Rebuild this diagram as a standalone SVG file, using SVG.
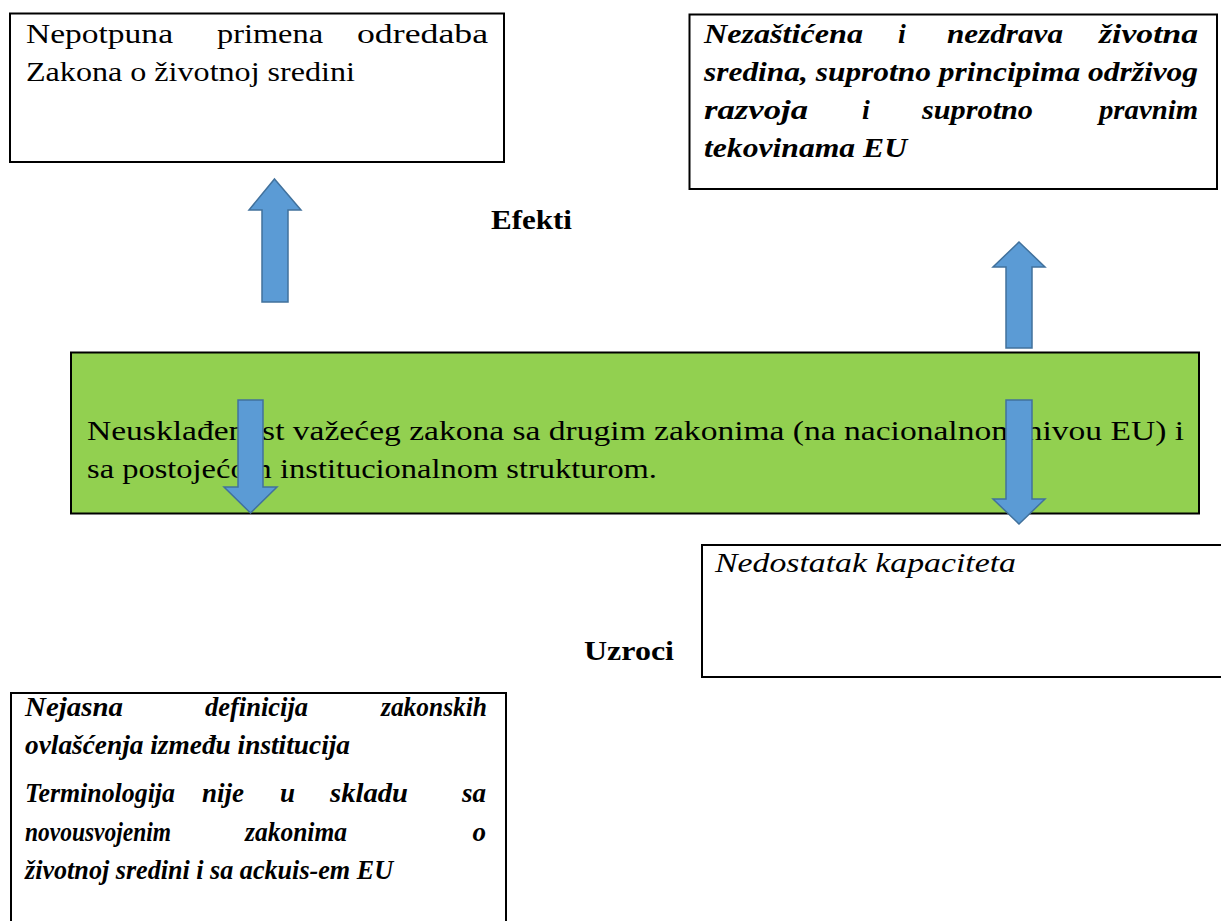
<svg xmlns="http://www.w3.org/2000/svg" width="1221" height="921" viewBox="0 0 1221 921">
<style>
.box{fill:#ffffff;stroke:#000000;stroke-width:2}
.green{fill:#92D050;stroke:#000000;stroke-width:2}
.t{font-family:"Liberation Serif","Times New Roman",serif;font-size:28px;fill:#000000}
.s{font-size:27px}
.bi{font-style:italic;font-weight:bold}
.it{font-style:italic}
.b{font-weight:bold}
.e{text-anchor:end}
.arrow{fill:#5B9BD5;stroke:#41719C;stroke-width:1.5;stroke-linejoin:miter}
</style>
<rect width="1221" height="921" fill="#ffffff"/>

<g id="node-nepotpuna">
<rect class="box" x="10" y="13.5" width="494" height="148.5"/>
<text class="t" x="26" y="43" textLength="147" lengthAdjust="spacingAndGlyphs">Nepotpuna</text>
<text class="t" x="217" y="43" textLength="106" lengthAdjust="spacingAndGlyphs">primena</text>
<text class="t" x="357" y="43" textLength="131" lengthAdjust="spacingAndGlyphs">odredaba</text>
<text class="t" x="26" y="81" textLength="329" lengthAdjust="spacingAndGlyphs">Zakona o životnoj sredini</text>
</g>

<g id="node-nezasticena">
<rect class="box" x="689.5" y="14.5" width="527.5" height="174.5"/>
<text class="t bi" x="704" y="43" textLength="159" lengthAdjust="spacingAndGlyphs">Nezaštićena</text>
<text class="t bi" x="898" y="43">i</text>
<text class="t bi" x="947" y="43" textLength="116" lengthAdjust="spacingAndGlyphs">nezdrava</text>
<text class="t bi" x="1099" y="43" textLength="99" lengthAdjust="spacingAndGlyphs">životna</text>
<text class="t bi" x="704" y="81" textLength="494" lengthAdjust="spacingAndGlyphs">sredina, suprotno principima održivog</text>
<text class="t bi" x="704" y="119" textLength="104" lengthAdjust="spacingAndGlyphs">razvoja</text>
<text class="t bi" x="862" y="119">i</text>
<text class="t bi" x="922" y="119" textLength="111" lengthAdjust="spacingAndGlyphs">suprotno</text>
<text class="t bi" x="1099" y="119" textLength="99" lengthAdjust="spacingAndGlyphs">pravnim</text>
<text class="t bi" x="704" y="157" textLength="203" lengthAdjust="spacingAndGlyphs">tekovinama EU</text>
</g>

<g id="label-efekti">
<text class="t b" x="491" y="229" textLength="81" lengthAdjust="spacingAndGlyphs">Efekti</text>
</g>

<g id="node-neuskladjenost">
<rect class="green" x="71" y="352.5" width="1128" height="161"/>
<text class="t" x="87" y="440" textLength="1097" lengthAdjust="spacingAndGlyphs">Neusklađenost važećeg zakona sa drugim zakonima (na nacionalnom nivou EU) i</text>
<text class="t" x="87" y="478" textLength="570" lengthAdjust="spacingAndGlyphs">sa postojećom institucionalnom strukturom.</text>
</g>

<g id="node-nedostatak">
<rect class="box" x="702" y="545" width="600" height="132"/>
<text class="t it" x="715" y="572" textLength="301" lengthAdjust="spacingAndGlyphs">Nedostatak kapaciteta</text>
</g>

<g id="label-uzroci">
<text class="t b" x="584" y="660" textLength="90" lengthAdjust="spacingAndGlyphs">Uzroci</text>
</g>

<g id="node-nejasna">
<rect class="box" x="11" y="693" width="495" height="300"/>
<text class="t s bi" x="25" y="716" textLength="98" lengthAdjust="spacingAndGlyphs">Nejasna</text>
<text class="t s bi" x="205" y="716" textLength="103" lengthAdjust="spacingAndGlyphs">definicija</text>
<text class="t s bi" x="381" y="716" textLength="106" lengthAdjust="spacingAndGlyphs">zakonskih</text>
<text class="t s bi" x="25" y="754" textLength="325" lengthAdjust="spacingAndGlyphs">ovlašćenja između institucija</text>
<text class="t s bi" x="25" y="802" textLength="150" lengthAdjust="spacingAndGlyphs">Terminologija</text>
<text class="t s bi" x="202" y="802">nije</text>
<text class="t s bi" x="280" y="802">u</text>
<text class="t s bi" x="330" y="802" textLength="78" lengthAdjust="spacingAndGlyphs">skladu</text>
<text class="t s bi e" x="486" y="802">sa</text>
<text class="t s bi" x="25" y="841" textLength="146" lengthAdjust="spacingAndGlyphs">novousvojenim</text>
<text class="t s bi" x="245" y="841" textLength="102" lengthAdjust="spacingAndGlyphs">zakonima</text>
<text class="t s bi e" x="486" y="841">o</text>
<text class="t s bi" x="25" y="879" textLength="368" lengthAdjust="spacingAndGlyphs">životnoj sredini i sa ackuis-em EU</text>
</g>

<g id="connectors">
<polygon class="arrow" points="274.5,179 301,210 288,210 288,302 262,302 262,210 249,210"/>
<polygon class="arrow" points="1019,242 1045,267 1032,267 1032,348 1006,348 1006,267 993,267"/>
<polygon class="arrow" points="238,400 263,400 263,487 277,487 250.5,513 224,487 238,487"/>
<polygon class="arrow" points="1006,400 1032,400 1032,499 1045,499 1019,524 993,499 1006,499"/>
</g>
</svg>
